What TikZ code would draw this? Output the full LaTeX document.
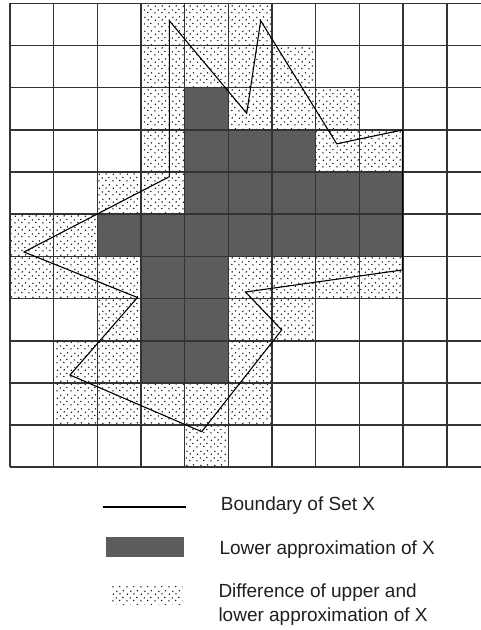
\documentclass[tikz,border=0pt]{standalone}
\usepackage{fontspec}
\setmainfont{Liberation Sans}
\usetikzlibrary{patterns.meta}
\tikzdeclarepattern{
  name=sparsedots,
  type=uncolored,
  bottom left={(0pt,0pt)},
  top right={(14pt,14pt)},
  tile size={(14pt,14pt)},
  code={
    \pgfpathcircle{\pgfpoint{1pt}{1.2pt}}{0.8pt}
    \pgfpathcircle{\pgfpoint{4.6pt}{4.3pt}}{0.8pt}
    \pgfpathcircle{\pgfpoint{8.2pt}{1.6pt}}{0.8pt}
    \pgfpathcircle{\pgfpoint{11.5pt}{4.8pt}}{0.8pt}
    \pgfpathcircle{\pgfpoint{1.5pt}{8.2pt}}{0.8pt}
    \pgfpathcircle{\pgfpoint{5.2pt}{11.3pt}}{0.8pt}
    \pgfpathcircle{\pgfpoint{8.6pt}{8.5pt}}{0.8pt}
    \pgfpathcircle{\pgfpoint{12.1pt}{11.8pt}}{0.8pt}
    \pgfusepath{fill}
  }
}
\tikzset{
  dotcell/.style={pattern=sparsedots, pattern color=black},
  darkcell/.style={fill=black!64},
  gridline/.style={draw=black!80, line width=1.6pt},
  boundary/.style={draw=black, line width=1.1pt, line join=miter},
  legtext/.style={anchor=base west, inner sep=0pt, text=black!88,
    font=\fontsize{19}{23.3}\selectfont},
}
\begin{document}
\begin{tikzpicture}[x=1pt,y=-1pt]
\useasboundingbox (0,0) rectangle (481,630);
\fill[white] (0,0) rectangle (481,630);
% upper minus lower approximation
\foreach \c/\r in {3/0,4/0,5/0,
                   3/1,4/1,5/1,6/1,
                   3/2,5/2,6/2,7/2,
                   3/3,7/3,8/3,
                   2/4,3/4,
                   0/5,1/5,
                   0/6,1/6,2/6,5/6,6/6,7/6,8/6,
                   2/7,5/7,6/7,
                   1/8,2/8,5/8,
                   1/9,2/9,3/9,4/9,5/9,
                   4/10}
  \fill[dotcell] ({10+43.67*\c},{3.3+42.18*\r}) rectangle ++(43.67,42.18);
% lower approximation
\foreach \c/\r in {4/2,
                   4/3,5/3,6/3,
                   4/4,5/4,6/4,7/4,8/4,
                   2/5,3/5,4/5,5/5,6/5,7/5,8/5,
                   3/6,4/6,
                   3/7,4/7,
                   3/8,4/8}
  \fill[darkcell] ({10+43.67*\c},{3.3+42.18*\r}) rectangle ++(43.67,42.18);
% grid
\foreach \i in {0,...,10}
  \draw[gridline] ({10+43.67*\i},3.3) -- ({10+43.67*\i},467.3);
\foreach \j in {0,...,11}
  \draw[gridline] (10,{3.3+42.18*\j}) -- (481,{3.3+42.18*\j});
% boundary of set X
\draw[boundary] (169.3,20.7) -- (246.7,113.3) -- (260.7,20.7) -- (336.7,143.8)
  -- (402.3,130) -- (402.3,270) -- (245.5,292) -- (281.7,330) -- (201.7,431.7)
  -- (70,375) -- (137.5,297.5) -- (24,252) -- (169.3,176.7) -- cycle;
% legend
\draw[black, line width=2.4pt] (102.7,506.7) -- (186,506.7);
\fill[darkcell] (106,537.3) rectangle (184.3,556.7);
\fill[dotcell] (110,586.7) rectangle (182.7,604);
\node[legtext] (t1) at (220.7,510.7) {Boundary of Set X};
\node[legtext] (t2) at (219.3,554) {Lower approximation of X};
\node[legtext] (t3) at (218.3,597.7) {Difference of upper and};
\node[legtext] (t4) at (218.3,621) {lower approximation of X};
\end{tikzpicture}
\end{document}
